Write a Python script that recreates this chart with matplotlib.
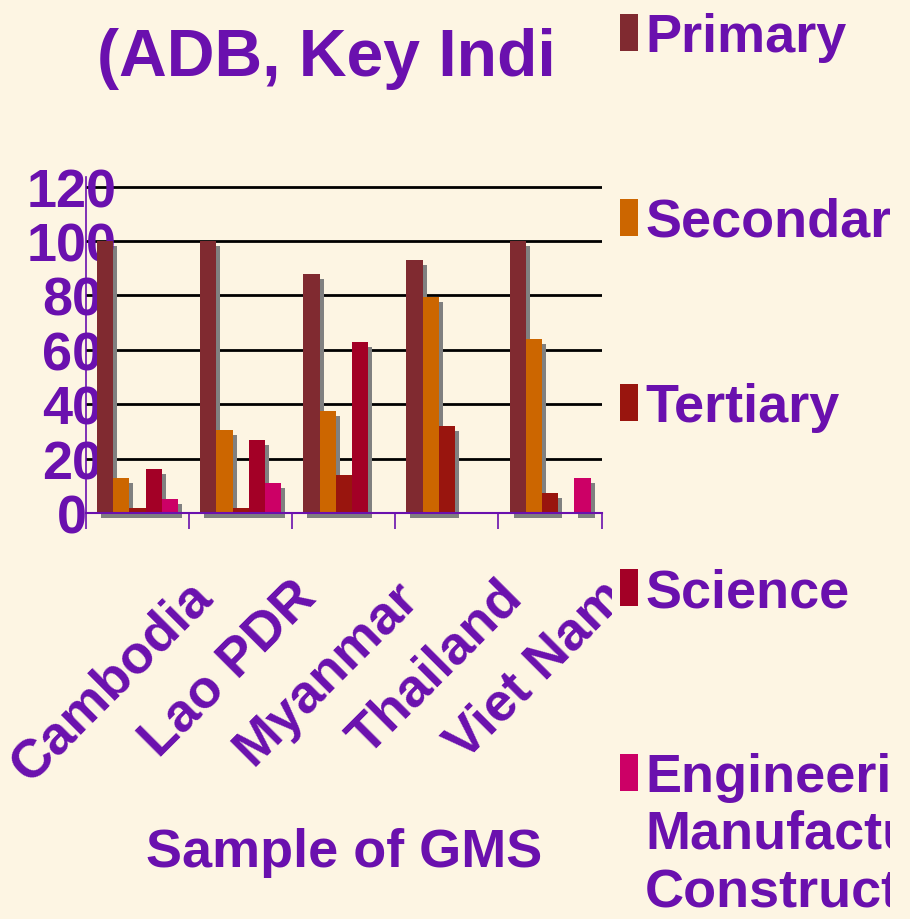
import numpy as np
import matplotlib
matplotlib.use("Agg")
import matplotlib.pyplot as plt
import matplotlib.transforms as mtransforms
from matplotlib.patches import Rectangle

# data
countries = ["Cambodia", "Lao PDR", "Myanmar", "Thailand", "Viet Nam"]
series_names = ["Primary", "Secondary", "Tertiary", "Science",
                "Engineering,\nManufacturing,\nConstruction"]
primary = [100, 100, 88, 93, 100]
secondary = [13, 30.5, 37.5, 79.5, 64]
tertiary = [2, 2, 14, 32, 7.5]
science = [16, 27, 63, np.nan, np.nan]
engineering = [5, 11, np.nan, np.nan, 13]
yticks = [0, 20, 40, 60, 80, 100, 120]

title = "(ADB, Key Indicators)"
xlabel = "Sample of GMS"

BG = "#FDF5E3"
PURPLE = "#6A10AE"
COLORS = ["#802A30", "#CC6600", "#99150E", "#A30026", "#CC0066"]
SHADOW = "#808080"
FONT = ["Liberation Sans", "DejaVu Sans"]
FS = 38.9

W, H = 910, 920
fig = plt.figure(figsize=(W / 100, H / 100), dpi=100, facecolor=BG)
ax = fig.add_axes([86 / W, (H - 514) / H, (601.6 - 86) / W, (514 - 178) / H])
ax.set_facecolor(BG)

series = [primary, secondary, tertiary, science, engineering]
x = np.arange(len(countries))
bw = 0.157
shadow_tr = ax.transData + mtransforms.ScaledTranslation(0.04, -0.05, fig.dpi_scale_trans)
for j, vals in enumerate(series):
    pos = x + (j - 2) * bw
    ax.bar(pos, vals, bw, color=SHADOW, linewidth=0, zorder=1,
           transform=shadow_tr, clip_on=False)
    ax.bar(pos, vals, bw, color=COLORS[j], linewidth=0, zorder=2)

for v in yticks[1:]:
    ax.axhline(v, color="black", lw=2.0, zorder=0.6)

ax.set_xlim(-0.5, len(countries) - 0.5)
ax.set_ylim(0, 123.5)
ax.set_yticks(yticks)
ax.set_yticklabels([str(v) for v in yticks])
ax.tick_params(axis="y", length=0, pad=10, labelsize=FS, labelcolor=PURPLE)
for lab in ax.get_yticklabels():
    lab.set_horizontalalignment("center")
    lab.set_fontweight("bold")
    lab.set_family(FONT)
ax.set_xticks(x)
ax.set_xticklabels([])
ax.tick_params(axis="x", which="major", length=0)
ax.set_xticks(np.arange(-0.5, len(countries)), minor=True)
ax.tick_params(axis="x", which="minor", length=11.5, width=1.2, color=PURPLE, direction="out")

for s in ["top", "right"]:
    ax.spines[s].set_visible(False)
ax.spines["left"].set_color(PURPLE)
ax.spines["left"].set_linewidth(1.2)
ax.spines["bottom"].set_color(PURPLE)
ax.spines["bottom"].set_linewidth(1.5)
ax.spines["bottom"].set_zorder(3)

# rotated category labels, clipped at the right edge of the chart area
lab_clip = mtransforms.TransformedBbox(mtransforms.Bbox.from_extents(0, 0, 612 / W, 1), fig.transFigure)
for i, c in enumerate(countries):
    tr = mtransforms.offset_copy(ax.transData, fig=fig, x=0.77, y=-0.85, units="inches")
    t = fig.text(i, 0, c, transform=tr, rotation=45, rotation_mode="anchor",
                 ha="right", va="baseline", fontsize=FS, fontweight="bold",
                 color=PURPLE, family=FONT)
    t.set_clip_box(lab_clip)
    t.set_clip_on(True)

fig.text(344 / W, (H - 867) / H, xlabel, ha="center", va="baseline",
         fontsize=FS, fontweight="bold", color=PURPLE, family=FONT)

# title, cut off like in the original slide
tt = fig.text(97 / W, (H - 76) / H, title, ha="left", va="baseline",
              fontsize=47.6, fontweight="bold", color=PURPLE, family=FONT)
tt.set_clip_box(mtransforms.TransformedBbox(mtransforms.Bbox.from_extents(0, 0, 553 / W, 1), fig.transFigure))
tt.set_clip_on(True)

# legend drawn by hand
leg_clip = mtransforms.TransformedBbox(mtransforms.Bbox.from_extents(0, 0, 890 / W, 1), fig.transFigure)
for i, name in enumerate(series_names):
    base = 52 + 185 * i
    fig.patches.append(Rectangle((620 / W, (H - base) / H), 18 / W, 37 / H,
                                 transform=fig.transFigure, color=COLORS[i], linewidth=0))
    for k, line in enumerate(name.split("\n")):
        t = fig.text(645 / W, (H - base - 57.5 * k) / H, line, ha="left", va="baseline",
                     fontsize=FS, fontweight="bold", color=PURPLE, family=FONT)
        t.set_clip_box(leg_clip)
        t.set_clip_on(True)

fig.savefig("out.png", dpi=100, facecolor=BG)
